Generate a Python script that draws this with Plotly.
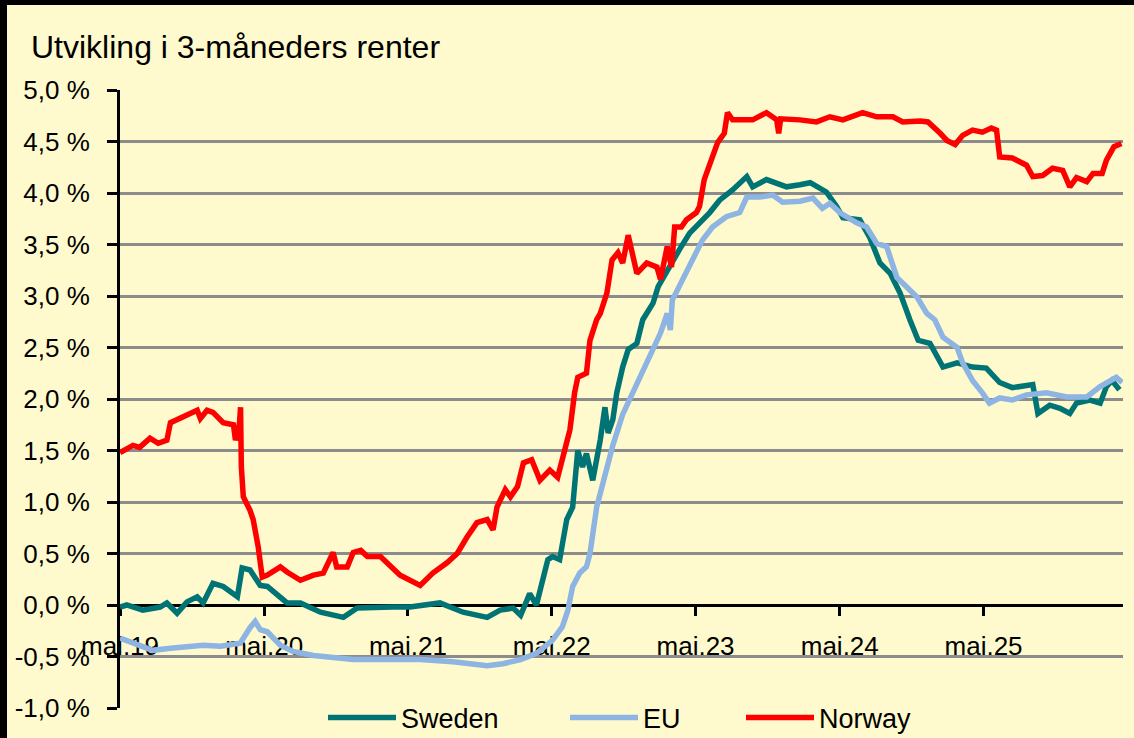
import plotly.graph_objects as go

# ---------------- data ----------------
no_dates = ["2019-05-01","2019-06-03","2019-06-20","2019-07-16","2019-08-06","2019-08-28","2019-09-06","2019-09-23",
            "2019-10-26","2019-11-13","2019-11-21","2019-12-08","2019-12-23","2020-01-18","2020-02-13","2020-02-18",
            "2020-02-28","2020-03-02","2020-03-04","2020-03-09","2020-03-26","2020-04-03","2020-04-16","2020-04-26",
            "2020-05-09","2020-06-11","2020-06-28","2020-08-01","2020-09-03","2020-09-28","2020-10-23","2020-11-01",
            "2020-11-28","2020-12-13","2021-01-01","2021-01-18","2021-02-20","2021-03-16","2021-04-11","2021-06-01",
            "2021-07-03","2021-08-08","2021-09-03","2021-09-28","2021-10-23","2021-11-18","2021-12-03","2021-12-13",
            "2022-01-03","2022-01-16","2022-02-03","2022-02-18","2022-03-11","2022-04-01","2022-04-26","2022-05-16",
            "2022-05-28","2022-06-16","2022-06-28","2022-07-06","2022-07-28","2022-08-06","2022-08-23","2022-09-01",
            "2022-09-18","2022-10-01","2022-10-16","2022-10-28","2022-11-11","2022-11-23","2022-12-03","2022-12-28",
            "2023-01-23","2023-02-01","2023-02-18","2023-03-01","2023-03-09","2023-03-26","2023-04-08","2023-05-03",
            "2023-05-11","2023-05-23","2023-06-11","2023-06-26","2023-07-13","2023-07-21","2023-08-03","2023-09-23",
            "2023-10-28","2023-11-23","2023-11-28","2023-12-03","2024-01-21","2024-03-03","2024-04-06","2024-05-09",
            "2024-06-28","2024-08-03","2024-09-13","2024-10-08","2024-11-21","2024-12-11","2025-01-11","2025-01-28",
            "2025-02-18","2025-03-09","2025-04-03","2025-04-28","2025-05-21","2025-06-03","2025-06-11","2025-07-13",
            "2025-08-18","2025-09-03","2025-09-28","2025-10-23","2025-11-18","2025-12-06","2025-12-23","2026-01-18",
            "2026-02-03","2026-02-26","2026-03-09","2026-03-28","2026-04-16"]
no_vals = [1.48,1.55,1.53,1.62,1.57,1.60,1.77,1.80,
           1.86,1.89,1.81,1.89,1.87,1.77,1.75,1.60,
           1.75,1.92,1.34,1.05,0.92,0.83,0.56,0.27,
           0.29,0.37,0.32,0.24,0.29,0.31,0.51,0.37,
           0.37,0.51,0.53,0.47,0.47,0.39,0.29,0.19,
           0.31,0.41,0.50,0.66,0.80,0.83,0.73,0.95,
           1.12,1.05,1.15,1.38,1.41,1.21,1.31,1.24,
           1.41,1.70,2.06,2.21,2.25,2.57,2.77,2.83,
           3.03,3.35,3.42,3.32,3.59,3.38,3.22,3.32,
           3.28,3.16,3.48,3.28,3.67,3.67,3.74,3.81,
           3.87,4.13,4.32,4.49,4.58,4.78,4.71,4.71,
           4.78,4.71,4.58,4.72,4.71,4.69,4.74,4.71,
           4.78,4.74,4.74,4.69,4.70,4.69,4.58,4.51,
           4.47,4.56,4.61,4.59,4.63,4.61,4.35,4.34,
           4.27,4.16,4.17,4.24,4.22,4.06,4.15,4.11,
           4.19,4.19,4.32,4.45,4.48]

se_dates = ["2019-05-01","2019-05-18","2019-06-28","2019-08-11","2019-08-28","2019-09-23","2019-10-18","2019-11-13",
            "2019-11-28","2019-12-23","2020-01-18","2020-02-23","2020-03-06","2020-03-26","2020-04-21","2020-05-09",
            "2020-06-28","2020-08-01","2020-09-21","2020-11-18","2020-12-23","2021-02-13","2021-03-23","2021-05-06",
            "2021-07-21","2021-09-18","2021-11-18","2021-12-21","2022-01-23","2022-02-11","2022-03-06","2022-03-23",
            "2022-04-08","2022-04-21","2022-05-03","2022-05-21","2022-06-08","2022-06-23","2022-07-06","2022-07-18",
            "2022-07-28","2022-08-13","2022-09-01","2022-09-13","2022-09-21","2022-10-03","2022-10-13","2022-10-28",
            "2022-11-11","2022-12-03","2022-12-18","2023-01-13","2023-01-26","2023-02-08","2023-03-03","2023-03-21",
            "2023-04-16","2023-05-11","2023-06-06","2023-07-01","2023-08-03","2023-09-08","2023-09-23","2023-10-28",
            "2023-11-23","2023-12-18","2024-01-21","2024-02-16","2024-03-28","2024-04-23","2024-05-09","2024-06-21",
            "2024-07-16","2024-08-11","2024-09-06","2024-10-01","2024-10-26","2024-11-16","2024-12-16","2025-01-18",
            "2025-02-23","2025-04-03","2025-05-08","2025-06-11","2025-07-13","2025-09-03","2025-09-16","2025-10-16",
            "2025-11-11","2025-12-06","2025-12-23","2026-01-26","2026-02-21","2026-03-09","2026-03-23","2026-04-11"]
se_vals = [-0.02,0.00,-0.05,-0.02,0.02,-0.08,0.03,0.08,
           0.02,0.21,0.18,0.08,0.36,0.34,0.19,0.18,
           0.02,0.02,-0.07,-0.12,-0.03,-0.02,-0.02,-0.02,
           0.02,-0.07,-0.12,-0.05,-0.03,-0.10,0.11,0.00,
           0.24,0.44,0.47,0.44,0.83,0.95,1.50,1.34,
           1.47,1.21,1.60,1.92,1.67,1.80,2.06,2.31,
           2.48,2.54,2.77,2.93,3.09,3.18,3.32,3.45,
           3.61,3.71,3.81,3.93,4.03,4.16,4.06,4.13,
           4.10,4.06,4.08,4.10,4.01,3.87,3.76,3.74,
           3.57,3.32,3.22,3.03,2.77,2.57,2.54,2.31,
           2.35,2.31,2.30,2.16,2.11,2.14,1.86,1.94,
           1.91,1.86,1.96,1.99,1.96,2.12,2.18,2.09]

eu_dates = ["2019-05-01","2019-07-23","2019-09-06","2019-11-28","2020-01-11","2020-03-01","2020-03-26","2020-04-08",
            "2020-04-21","2020-05-09","2020-06-11","2020-07-13","2020-09-03","2020-10-23","2020-12-13","2021-03-08",
            "2021-06-01","2021-08-23","2021-11-18","2021-12-28","2022-02-11","2022-03-23","2022-05-03","2022-05-28",
            "2022-06-11","2022-06-23","2022-07-11","2022-07-28","2022-08-06","2022-08-23","2022-09-08","2022-10-03",
            "2022-10-28","2022-11-23","2022-12-18","2023-01-13","2023-02-01","2023-02-18","2023-02-26","2023-03-03",
            "2023-03-28","2023-04-23","2023-05-18","2023-06-13","2023-07-18","2023-08-21","2023-09-08","2023-10-11",
            "2023-11-13","2023-12-08","2024-01-21","2024-02-23","2024-03-18","2024-04-06","2024-05-01","2024-06-13",
            "2024-07-08","2024-08-03","2024-08-28","2024-09-23","2024-10-18","2024-11-13","2024-12-08","2024-12-28",
            "2025-01-18","2025-02-23","2025-03-09","2025-04-03","2025-04-28","2025-05-16","2025-06-11","2025-07-13",
            "2025-08-18","2025-10-08","2025-11-28","2026-01-18","2026-02-21","2026-04-03","2026-04-18"]
eu_vals = [-0.32,-0.44,-0.42,-0.39,-0.40,-0.37,-0.22,-0.16,
           -0.24,-0.26,-0.39,-0.45,-0.49,-0.51,-0.53,-0.53,
           -0.53,-0.55,-0.59,-0.57,-0.53,-0.47,-0.34,-0.21,
           -0.05,0.18,0.31,0.37,0.50,0.95,1.20,1.55,
           1.85,2.06,2.25,2.48,2.64,2.83,2.67,2.96,
           3.16,3.35,3.54,3.67,3.77,3.81,3.96,3.96,
           3.98,3.91,3.92,3.95,3.85,3.90,3.81,3.71,
           3.67,3.51,3.48,3.18,3.09,2.99,2.83,2.77,
           2.60,2.50,2.35,2.18,2.06,1.96,2.01,1.99,
           2.04,2.06,2.02,2.02,2.12,2.21,2.16]

series_names = ["Sweden", "EU", "Norway"]
series_colors = ["#007474", "#8DB4E2", "#FF0000"]

y_tick_vals = [-1.0, -0.5, 0.0, 0.5, 1.0, 1.5, 2.0, 2.5, 3.0, 3.5, 4.0, 4.5, 5.0]
y_tick_text = ["-1,0 %", "-0,5 %", "0,0 %", "0,5 %", "1,0 %", "1,5 %", "2,0 %",
               "2,5 %", "3,0 %", "3,5 %", "4,0 %", "4,5 %", "5,0 %"]
x_tick_vals = ["2019-05-01", "2020-05-01", "2021-05-01", "2022-05-01",
               "2023-05-01", "2024-05-01", "2025-05-01"]
x_tick_text = ["mai.19", "mai.20", "mai.21", "mai.22", "mai.23", "mai.24", "mai.25"]
x_range = ["2019-05-01", "2026-04-20"]
title_text = "Utvikling i 3-måneders renter"

# ---------------- figure ----------------
W, H = 1134, 738
ML, MR, MT, MB = 120, 11, 90, 30
PW, PH = W - ML - MR, H - MT - MB

def px_x(p):
    return (p - ML) / PW

def px_y(p):
    return (H - MB - p) / PH

def cx(p):
    return p / W

def cy(p):
    return (H - p) / H

BG = "#FFFACD"
FONT = "Liberation Sans"

fig = go.Figure()
all_dates = [se_dates, eu_dates, no_dates]
all_vals = [se_vals, eu_vals, no_vals]
legend_ids = ["legend", "legend2", "legend3"]
for name, color, d, v, lg in zip(series_names, series_colors, all_dates, all_vals, legend_ids):
    fig.add_trace(go.Scatter(x=d, y=v, mode="lines", name=name,
                             line=dict(color=color, width=5.5),
                             legend=lg))

legend_common = dict(orientation="h", yanchor="middle", xanchor="left",
                     xref="container", yref="container",
                     bgcolor="rgba(0,0,0,0)", borderwidth=0,
                     font=dict(family=FONT, size=27, color="black"),
                     itemwidth=68, tracegroupgap=0)
fig.update_layout(
    width=W, height=H,
    margin=dict(l=ML, r=MR, t=MT, b=MB, pad=0, autoexpand=False),
    paper_bgcolor=BG, plot_bgcolor=BG,
    font=dict(family=FONT, color="black"),
    showlegend=True,
    legend=dict(x=cx(323), y=cy(718), **legend_common),
    legend2=dict(x=cx(565), y=cy(718), **legend_common),
    legend3=dict(x=cx(741), y=cy(718), **legend_common),
    xaxis=dict(type="date", range=x_range, anchor="free", position=1/6,
               tickvals=x_tick_vals, ticktext=x_tick_text,
               showgrid=False, zeroline=False,
               showline=True, linecolor="black", linewidth=3,
               ticks="outside", ticklen=9, tickwidth=3, tickcolor="black",
               ticklabelstandoff=8,
               tickfont=dict(family=FONT, size=26, color="black"),
               layer="below traces"),
    yaxis=dict(range=[-1, 5], tickvals=y_tick_vals, ticktext=y_tick_text,
               showgrid=True, gridcolor="#8C8C8C", gridwidth=2.5,
               zeroline=False,
               showline=True, linecolor="black", linewidth=3,
               ticks="outside", ticklen=10, tickwidth=3, tickcolor="black",
               ticklabelstandoff=12,
               tickfont=dict(family=FONT, size=26, color="black"),
               layer="below traces"),
    annotations=[dict(text=title_text, x=px_x(29), y=px_y(47), xref="paper", yref="paper",
                      xanchor="left", yanchor="middle", showarrow=False,
                      font=dict(family=FONT, size=32, color="black"))],
    shapes=[
        dict(type="rect", xref="paper", yref="paper", x0=px_x(0), x1=px_x(7), y0=px_y(H), y1=px_y(0),
             fillcolor="black", line=dict(width=0), layer="above"),
        dict(type="rect", xref="paper", yref="paper", x0=px_x(0), x1=px_x(W), y0=px_y(5), y1=px_y(0),
             fillcolor="black", line=dict(width=0), layer="above"),
    ],
)

fig.write_html("out.html",
               config={"displayModeBar": False},
               post_script="document.body.style.margin='0';document.body.style.overflow='hidden';")
